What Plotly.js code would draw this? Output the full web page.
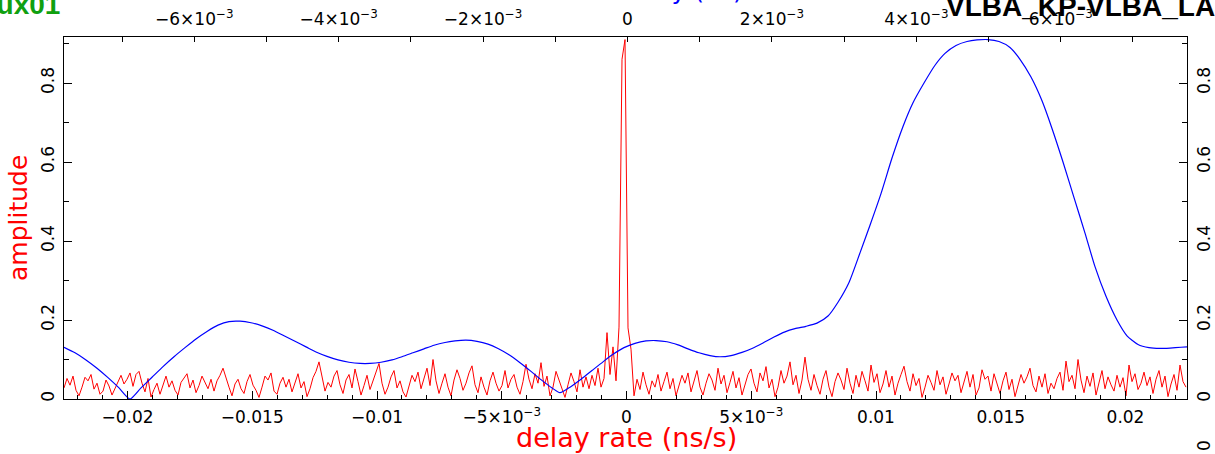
<!DOCTYPE html>
<html>
<head>
<meta charset="utf-8">
<script src="https://cdn.plot.ly/plotly-3.0.1.min.js"></script>
<style>html,body{margin:0;padding:0;background:#fff;}#chart{width:1215px;height:454px;}</style>
</head>
<body>
<div id="chart"></div>
<script>
// ---- data ----
// red: amplitude vs delay rate (ns/s), uniform sampling grid
const rateStart = -0.0225451;
const rateStep = 0.00012024;
const rateAmp = [
0.028,0.052,0.035,0.058,0.022,0.008,0.030,0.055,0.046,0.062,0.025,0.040,0.012,0.020,0.048,0.033,0.010,0.026,0.044,0.060,0.038,0.050,0.066,0.032,0.062,
0.070,0.040,0.018,0.052,0.005,0.024,0.040,0.012,0.036,0.058,0.030,0.046,0.022,0.010,0.042,0.054,0.064,0.028,0.048,0.016,0.034,0.058,0.040,0.026,0.050,
0.020,0.046,0.060,0.078,0.052,0.030,0.008,0.038,0.050,0.026,0.014,0.044,0.062,0.035,0.022,0.004,0.030,0.058,0.048,0.066,0.020,0.012,0.040,0.055,0.030,
0.050,0.018,0.040,0.064,0.028,0.044,0.006,0.026,0.054,0.070,0.094,0.052,0.020,0.042,0.030,0.058,0.072,0.036,0.014,0.048,0.062,0.028,0.076,0.044,0.010,
0.034,0.060,0.024,0.048,0.068,0.090,0.040,0.012,0.030,0.056,0.072,0.028,0.046,0.018,0.005,0.036,0.060,0.044,0.068,0.026,0.050,0.078,0.034,0.100,0.046,
0.014,0.040,0.064,0.030,0.008,0.048,0.074,0.052,0.022,0.040,0.066,0.084,0.036,0.016,0.056,0.030,0.010,0.046,0.068,0.040,0.020,0.034,0.072,0.028,0.050,
0.062,0.030,0.012,0.044,0.088,0.050,0.026,0.064,0.040,0.092,0.032,0.058,0.008,0.030,0.070,0.046,0.022,0.004,0.036,0.066,0.044,0.018,0.074,0.030,0.056,
0.026,0.060,0.034,0.078,0.030,0.052,0.168,0.062,0.132,0.046,0.182,0.860,0.910,0.180,0.126,0.008,0.050,0.024,0.068,0.036,0.012,0.046,0.030,0.062,0.020,
0.044,0.068,0.026,0.052,0.008,0.034,0.060,0.040,0.066,0.018,0.046,0.072,0.030,0.010,0.040,0.064,0.048,0.022,0.078,0.038,0.060,0.016,0.042,0.070,0.028,
0.054,0.010,0.036,0.062,0.076,0.040,0.018,0.066,0.046,0.082,0.028,0.050,0.006,0.030,0.072,0.040,0.058,0.094,0.036,0.060,0.014,0.048,0.106,0.050,0.022,
0.062,0.034,0.012,0.050,0.072,0.030,0.006,0.044,0.066,0.048,0.024,0.078,0.040,0.014,0.060,0.030,0.070,0.046,0.020,0.086,0.042,0.064,0.016,0.038,0.072,
0.030,0.058,0.010,0.040,0.062,0.083,0.044,0.020,0.064,0.034,0.052,0.004,0.030,0.060,0.042,0.022,0.072,0.036,0.056,0.012,0.038,0.066,0.046,0.060,0.016,
0.042,0.070,0.030,0.062,0.010,0.028,0.074,0.050,0.058,0.020,0.064,0.038,0.014,0.046,0.068,0.024,0.050,0.006,0.032,0.062,0.040,0.056,0.078,0.034,0.018,
0.058,0.030,0.064,0.014,0.040,0.026,0.052,0.068,0.022,0.096,0.044,0.060,0.026,0.100,0.048,0.016,0.058,0.032,0.066,0.010,0.044,0.072,0.026,0.056,0.036,
0.020,0.060,0.030,0.054,0.008,0.086,0.044,0.064,0.024,0.040,0.068,0.034,0.056,0.014,0.050,0.072,0.030,0.058,0.006,0.038,0.062,0.022,0.086,0.044,0.030
];
// blue: amplitude vs delay (ns)
const delayNs = [
-0.0078036,-0.0076513,-0.0074990,-0.0073466,-0.0071943,-0.0070420,-0.0068896,-0.0067373,-0.0065850,-0.0064326,
-0.0062803,-0.0061280,-0.0059756,-0.0058233,-0.0056710,-0.0055186,-0.0053663,-0.0052140,-0.0050616,-0.0049093,
-0.0047570,-0.0046046,-0.0044523,-0.0043138,-0.0041615,-0.0040091,-0.0038568,-0.0037045,-0.0035660,-0.0034137,
-0.0032613,-0.0031228,-0.0029705,-0.0028182,-0.0026797,-0.0025274,-0.0023889,-0.0022365,-0.0020842,-0.0019319,
-0.0017934,-0.0016410,-0.0014887,-0.0013364,-0.0011979,-0.0010456,-0.0009348,-0.0007963,-0.0006440,-0.0004916,
-0.0003393,-0.0002008,-0.0000485,0.0001039,0.0002562,0.0003947,0.0005470,0.0006993,0.0008378,0.0009902,
0.0011425,0.0012810,0.0014333,0.0015857,0.0017241,0.0018765,0.0020288,0.0021811,0.0023196,0.0024720,
0.0026243,0.0027766,0.0029151,0.0030674,0.0032198,0.0033583,0.0035106,0.0036629,0.0038153,0.0039537,
0.0041061,0.0042584,0.0043969,0.0045492,0.0047016,0.0048401,0.0049924,0.0051447,0.0052971,0.0054355,
0.0055879,0.0057402,0.0058787,0.0060310,0.0061834,0.0063357,0.0064742,0.0066265,0.0067789,0.0069173,
0.0070697,0.0072220,0.0073743,0.0075128,0.0076651,0.0077482
];
const delayAmp = [
0.131,0.117,0.099,0.078,0.054,0.028,0.000,0.028,0.055,0.082,
0.107,0.130,0.152,0.171,0.187,0.196,0.197,0.193,0.185,0.174,
0.160,0.146,0.132,0.119,0.108,0.099,0.093,0.090,0.090,0.093,
0.099,0.107,0.117,0.127,0.136,0.143,0.147,0.149,0.146,0.139,
0.128,0.112,0.092,0.070,0.049,0.028,0.016,0.030,0.050,0.072,
0.094,0.113,0.130,0.141,0.147,0.148,0.145,0.137,0.127,0.117,
0.110,0.107,0.110,0.118,0.128,0.142,0.157,0.170,0.178,0.184,
0.192,0.210,0.245,0.295,0.370,0.440,0.520,0.610,0.690,0.750,
0.800,0.845,0.875,0.895,0.905,0.909,0.910,0.905,0.890,0.860,
0.815,0.755,0.685,0.600,0.510,0.420,0.335,0.260,0.200,0.160,
0.138,0.130,0.128,0.129,0.131,0.132
];
// tick labels
const rateTickVals = [-0.02,-0.015,-0.01,-0.005,0,0.005,0.01,0.015,0.02];
const rateTickText = ["\u22120.02","\u22120.015","\u22120.01","\u22125\u00d710<sup>\u22123</sup>","0","5\u00d710<sup>\u22123</sup>","0.01","0.015","0.02"];
const delayTickVals = [-0.006,-0.004,-0.002,0,0.002,0.004,0.006];
const delayTickText = ["\u22126\u00d710<sup>\u22123</sup>","\u22124\u00d710<sup>\u22123</sup>","\u22122\u00d710<sup>\u22123</sup>","0","2\u00d710<sup>\u22123</sup>","4\u00d710<sup>\u22123</sup>","6\u00d710<sup>\u22123</sup>"];
const ampTickVals = [0,0.2,0.4,0.6,0.8];
const ampTickText = ["0","0.2","0.4","0.6","0.8"];

const rateX = rateAmp.map((_, i) => rateStart + i * rateStep);

const F = "DejaVu Sans";
const tickFont = {family: F, size: 17, color: "#000"};
const W = 1215, H = 454, L = 64, R = 1187, T = 37, B = 399;
const px = x => (x - L) / (R - L);
const py = y => (B - y) / (B - T);

const traces = [
  {x: rateX, y: rateAmp, type: "scatter", mode: "lines", line: {color: "#ff0000", width: 1}, xaxis: "x", yaxis: "y", hoverinfo: "skip"},
  {x: delayNs, y: delayAmp, type: "scatter", mode: "lines", line: {color: "#0000ff", width: 1.2, shape: "spline", smoothing: 0.6}, xaxis: "x2", yaxis: "y2", hoverinfo: "skip"}
];

const axBase = {showgrid: false, zeroline: false, showline: true, linecolor: "#000", linewidth: 1, ticks: "inside", tickcolor: "#000", tickwidth: 1, tickfont: tickFont, fixedrange: true};

const layout = {
  width: W, height: H,
  margin: {l: L, r: W - R, t: T, b: H - B, pad: 0},
  paper_bgcolor: "#fff", plot_bgcolor: "#fff",
  showlegend: false,
  font: {family: F},
  xaxis: Object.assign({}, axBase, {
    range: [-0.0225451, 0.0224649], tickmode: "array", tickvals: rateTickVals, ticktext: rateTickText, ticklen: 8,
    minor: {dtick: 0.001, tick0: 0, ticks: "inside", ticklen: 4, tickcolor: "#000", showgrid: false},
    ticklabelstandoff: 3
  }),
  xaxis2: Object.assign({}, axBase, {
    overlaying: "x", side: "top", anchor: "y",
    range: [-0.0078036, 0.0077482], tickmode: "array", tickvals: delayTickVals, ticktext: delayTickText, ticklen: 5,
    minor: {dtick: 0.001, tick0: 0, ticks: "inside", ticklen: 5, tickcolor: "#000", showgrid: false},
    ticklabelstandoff: 4
  }),
  yaxis: Object.assign({}, axBase, {
    range: [0, 0.9165], tickmode: "array", tickvals: ampTickVals, ticktext: ampTickText, ticklen: 8, tickangle: -90,
    minor: {dtick: 0.1, tick0: 0, ticks: "inside", ticklen: 5, tickcolor: "#000", showgrid: false},
    ticklabelstandoff: 2
  }),
  yaxis2: Object.assign({}, axBase, {
    overlaying: "y", side: "right", anchor: "x",
    range: [0, 0.9165], tickmode: "array", tickvals: ampTickVals, ticktext: ampTickText, ticklen: 8, tickangle: -90,
    minor: {dtick: 0.1, tick0: 0, ticks: "inside", ticklen: 5, tickcolor: "#000", showgrid: false},
    ticklabelstandoff: 2
  }),
  annotations: [
    {text: "amplitude", xref: "paper", yref: "paper", x: px(18), y: 0.5, xanchor: "center", yanchor: "middle", textangle: -90, showarrow: false, font: {family: F, size: 25, color: "#ff0000"}},
    {text: "delay rate (ns/s)", xref: "paper", yref: "paper", x: px(626), y: py(437), xanchor: "center", yanchor: "middle", showarrow: false, font: {family: F, size: 27, color: "#ff0000"}},
    {text: "delay (ns)", xref: "paper", yref: "paper", x: px(616), y: py(6.5), xanchor: "left", yanchor: "bottom", showarrow: false, font: {family: F, size: 25, color: "#0000ff"}},
    {text: "<b>aux01</b>", xref: "paper", yref: "paper", x: px(62), y: py(22), xanchor: "right", yanchor: "bottom", showarrow: false, font: {family: "Liberation Sans", size: 28, color: "#10a010"}},
    {text: "<b>VLBA_KP-VLBA_LA</b>", xref: "paper", yref: "paper", x: px(944), y: py(23.5), xanchor: "left", yanchor: "bottom", showarrow: false, font: {family: "Liberation Sans", size: 28, color: "#000"}},
    {text: "0", xref: "paper", yref: "paper", x: px(1204), y: py(446), xanchor: "center", yanchor: "middle", textangle: -90, showarrow: false, font: tickFont}
  ]
};

Plotly.newPlot("chart", traces, layout, {staticPlot: true, displayModeBar: false});
</script>
</body>
</html>
